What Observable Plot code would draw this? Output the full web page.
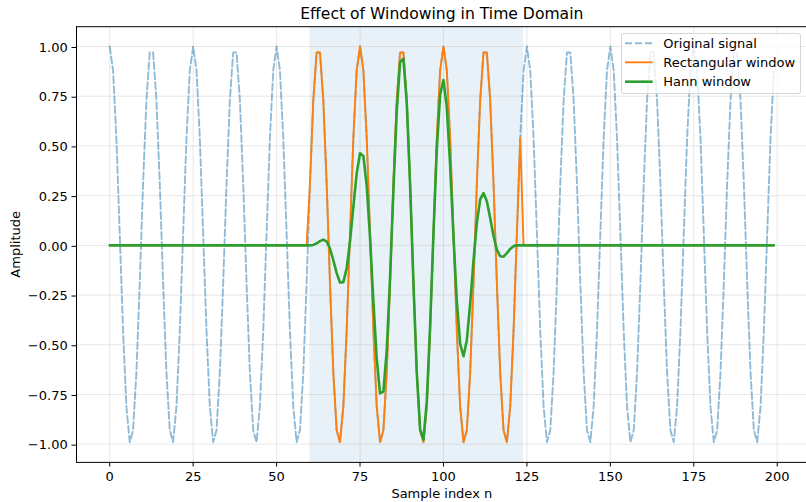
<!DOCTYPE html>
<html><head><meta charset="utf-8">
<script src="https://cdn.jsdelivr.net/npm/d3@7"></script>
<script src="https://cdn.jsdelivr.net/npm/@observablehq/plot@0.6"></script>
<style>
body{margin:0;background:#fff;}
#wrap{position:relative;width:806px;height:502px;overflow:hidden;font-family:"DejaVu Sans",sans-serif;color:#000;}
#wrap svg.main{position:absolute;left:0;top:0;}
.legbox{position:absolute;left:620.5px;top:32.5px;width:180px;height:61.5px;box-sizing:border-box;border:1px solid rgba(204,204,204,0.8);border-radius:3px;background:rgba(255,255,255,0.8);}
.leglab{position:absolute;left:663.3px;font-size:13px;line-height:15px;white-space:nowrap;}
.leghandles{position:absolute;left:0;top:0;}
</style></head><body><div id="wrap"></div>
<script>
// Sample values (sample index = array position 0..199)
const original = [
1,0.88,0.54,0.06,-0.43,-0.81,-0.99,-0.93,-0.64,-0.19,0.31,0.73,0.97,0.97,0.73,0.31,-0.19,-0.64,-0.93,-0.99,-0.81,-0.43,0.06,0.54,0.88,
1,0.88,0.54,0.06,-0.43,-0.81,-0.99,-0.93,-0.64,-0.19,0.31,0.73,0.97,0.97,0.73,0.31,-0.19,-0.64,-0.93,-0.99,-0.81,-0.43,0.06,0.54,0.88,
1,0.88,0.54,0.06,-0.43,-0.81,-0.99,-0.93,-0.64,-0.19,0.31,0.73,0.97,0.97,0.73,0.31,-0.19,-0.64,-0.93,-0.99,-0.81,-0.43,0.06,0.54,0.88,
1,0.88,0.54,0.06,-0.43,-0.81,-0.99,-0.93,-0.64,-0.19,0.31,0.73,0.97,0.97,0.73,0.31,-0.19,-0.64,-0.93,-0.99,-0.81,-0.43,0.06,0.54,0.88,
1,0.88,0.54,0.06,-0.43,-0.81,-0.99,-0.93,-0.64,-0.19,0.31,0.73,0.97,0.97,0.73,0.31,-0.19,-0.64,-0.93,-0.99,-0.81,-0.43,0.06,0.54,0.88,
1,0.88,0.54,0.06,-0.43,-0.81,-0.99,-0.93,-0.64,-0.19,0.31,0.73,0.97,0.97,0.73,0.31,-0.19,-0.64,-0.93,-0.99,-0.81,-0.43,0.06,0.54,0.88,
1,0.88,0.54,0.06,-0.43,-0.81,-0.99,-0.93,-0.64,-0.19,0.31,0.73,0.97,0.97,0.73,0.31,-0.19,-0.64,-0.93,-0.99,-0.81,-0.43,0.06,0.54,0.88,
1,0.88,0.54,0.06,-0.43,-0.81,-0.99,-0.93,-0.64,-0.19,0.31,0.73,0.97,0.97,0.73,0.31,-0.19,-0.64,-0.93,-0.99,-0.81,-0.43,0.06,0.54,0.88
];
const rectangular = [
0,0,0,0,0,0,0,0,0,0,
0,0,0,0,0,0,0,0,0,0,
0,0,0,0,0,0,0,0,0,0,
0,0,0,0,0,0,0,0,0,0,
0,0,0,0,0,0,0,0,0,0,
0,0,0,0,0,0,0,0,0,0,
0.31,0.73,0.97,0.97,0.73,0.31,-0.19,-0.64,-0.93,-0.99,-0.81,-0.43,0.06,0.54,0.88,
1,0.88,0.54,0.06,-0.43,-0.81,-0.99,-0.93,-0.64,-0.19,0.31,0.73,0.97,0.97,0.73,0.31,-0.19,-0.64,-0.93,-0.99,-0.81,-0.43,0.06,0.54,0.88,
1,0.88,0.54,0.06,-0.43,-0.81,-0.99,-0.93,-0.64,-0.19,0.31,0.73,0.97,0.97,0.73,0.31,-0.19,-0.64,-0.93,-0.99,-0.81,-0.43,0.06,0.54,
0,0,0,0,0,0,0,0,0,0,
0,0,0,0,0,0,0,0,0,0,
0,0,0,0,0,0,0,0,0,0,
0,0,0,0,0,0,0,0,0,0,
0,0,0,0,0,0,0,0,0,0,
0,0,0,0,0,0,0,0,0,0,
0,0,0,0,0,0,0,0,0,0,
0,0,0,0,0,0
];
const hann = [
0,0,0,0,0,0,0,0,0,0,
0,0,0,0,0,0,0,0,0,0,
0,0,0,0,0,0,0,0,0,0,
0,0,0,0,0,0,0,0,0,0,
0,0,0,0,0,0,0,0,0,0,
0,0,0,0,0,0,0,0,0,0,
0,0.002,0.010,0.021,0.029,0.019,-0.016,-0.075,-0.140,-0.187,
-0.185,-0.116,0.020,0.195,0.362,0.463,0.449,0.301,0.038,-0.281,
-0.571,-0.744,-0.736,-0.530,-0.162,0.278,0.676,0.921,0.939,0.718,
0.307,-0.187,-0.637,-0.925,-0.977,-0.785,-0.405,0.058,0.482,0.759,
0.831,0.694,0.402,0.044,-0.281,-0.495,-0.558,-0.477,-0.295,-0.077,
0.113,0.231,0.263,0.222,0.137,0.047,-0.022,-0.055,-0.057,-0.039,
-0.018,-0.004,0,0,
0,0,0,0,0,0,0,0,0,0,
0,0,0,0,0,0,0,0,0,0,
0,0,0,0,0,0,0,0,0,0,
0,0,0,0,0,0,0,0,0,0,
0,0,0,0,0,0,0,0,0,0,
0,0,0,0,0,0,0,0,0,0,
0,0,0,0,0,0,0,0,0,0,
0,0,0,0,0,0
];
const xTicks = [0,25,50,75,100,125,150,175,200];
const yTicks = [-1,-0.75,-0.5,-0.25,0,0.25,0.5,0.75,1];
const windowSpan = [60,124];
const seriesNames = ["Original signal","Rectangular window","Hann window"];
const seriesColors = ["#1f77b4","#ff7f0e","#2ca02c"];
const titleText = "Effect of Windowing in Time Domain";
const xLabel = "Sample index n";
const yLabel = "Amplitude";

const idx = original.map((_, i) => i);
const xDom = [-9.95, 208.95], yDom = [-1.0917, 1.0996];
const yLo = () => yDom[0], yHi = () => yDom[1];

const chart = Plot.plot({
  width: 806, height: 502,
  marginLeft: 76, marginRight: 0, marginTop: 26, marginBottom: 40,
  x: {domain: xDom, range: [76, 806.6]},
  y: {domain: yDom, range: [461.9, 26.2]},
  style: {fontFamily: "DejaVu Sans", fontSize: "13px", color: "#000", background: "transparent", overflow: "visible"},
  marks: [
    Plot.rect([windowSpan], {x1: d => d[0], x2: d => d[1], y1: yLo, y2: yHi, fill: "#1f77b4", fillOpacity: 0.1}),
    Plot.ruleX(xTicks, {y1: yLo, y2: yHi, stroke: "#b0b0b0", strokeOpacity: 0.3, strokeWidth: 1}),
    Plot.ruleY(yTicks, {x1: () => xDom[0], x2: () => xDom[1], stroke: "#b0b0b0", strokeOpacity: 0.3, strokeWidth: 1}),
    Plot.line(idx, {x: i => i, y: i => original[i], stroke: seriesColors[0], strokeOpacity: 0.5, strokeWidth: 1.9, strokeDasharray: "7,3", strokeLinejoin: "round"}),
    Plot.line(idx, {x: i => i, y: i => rectangular[i], stroke: seriesColors[1], strokeWidth: 1.9, strokeLinejoin: "round"}),
    Plot.line(idx, {x: i => i, y: i => hann[i], stroke: seriesColors[2], strokeWidth: 2.6, strokeLinejoin: "round"}),
    Plot.ruleX([xDom[0], xDom[1]], {y1: yLo, y2: yHi, stroke: "#000", strokeWidth: 1}),
    Plot.ruleY([yDom[0], yDom[1]], {x1: () => xDom[0], x2: () => xDom[1], stroke: "#000", strokeWidth: 1}),
    Plot.axisX(xTicks, {anchor: "bottom", tickSize: 4.5, tickPadding: 5.1, tickFormat: d => String(d), label: null, fontSize: 13, stroke: "#000", fill: "#000"}),
    Plot.axisY(yTicks, {anchor: "left", tickSize: 4.5, tickPadding: 4.3, tickFormat: d3.format(".2f"), label: null, fontSize: 13, dy: 1.0, stroke: "#000", fill: "#000"}),
    Plot.text([{x: 99.5, y: yDom[1], t: titleText}], {x: "x", y: "y", text: "t", dy: -7.9, lineAnchor: "bottom", fontSize: 15.6, fill: "#000"}),
    Plot.text([{x: 99.5, y: yDom[0], t: xLabel}], {x: "x", y: "y", text: "t", dy: 35.8, lineAnchor: "bottom", fontSize: 13, fill: "#000"}),
    Plot.text([{x: -26.73, y: 0.005, t: yLabel}], {x: "x", y: "y", text: "t", rotate: -90, lineAnchor: "bottom", fontSize: 13, fill: "#000"})
  ]
});
chart.classList.add("main");
const wrap = document.getElementById("wrap");
wrap.appendChild(chart);

// Legend
const box = document.createElement("div");
box.className = "legbox";
wrap.appendChild(box);
const handleY = [43.3, 62.3, 81.7];
const labelTop = [35.7, 54.7, 74.0];
const ns = "http://www.w3.org/2000/svg";
const hs = document.createElementNS(ns, "svg");
hs.setAttribute("class", "leghandles");
hs.setAttribute("width", 806); hs.setAttribute("height", 502);
hs.style.position = "absolute"; hs.style.left = "0"; hs.style.top = "0";
seriesNames.forEach((name, k) => {
  const ln = document.createElementNS(ns, "line");
  ln.setAttribute("x1", 625); ln.setAttribute("x2", 652.7);
  ln.setAttribute("y1", handleY[k]); ln.setAttribute("y2", handleY[k]);
  ln.setAttribute("stroke", seriesColors[k]);
  ln.setAttribute("stroke-width", k === 2 ? 2.6 : 1.9);
  if (k === 0) { ln.setAttribute("stroke-opacity", 0.5); ln.setAttribute("stroke-dasharray", "7,3"); }
  hs.appendChild(ln);
  const lab = document.createElement("div");
  lab.className = "leglab";
  lab.style.top = labelTop[k] + "px";
  lab.textContent = name;
  wrap.appendChild(lab);
});
wrap.appendChild(hs);
</script></body></html>
